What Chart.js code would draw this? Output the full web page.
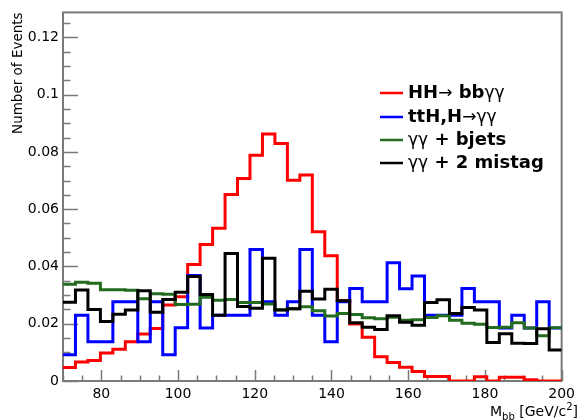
<!DOCTYPE html>
<html>
<head>
<title>Diphoton invariant mass</title>
<script src="https://cdn.jsdelivr.net/npm/chart.js"></script>
<style>
    body {
        margin: 0;
        background: #fff;
    }
</style>
</head>
<body>
<canvas id="myChart" width="580" height="420"></canvas>

<script>
// binning of the mass histograms
var binLow = 70;
var binHigh = 200;
var nBins = 40;

var xTickValues = [80, 100, 120, 140, 160, 180, 200];
var yTickValues = [0, 0.02, 0.04, 0.06, 0.08, 0.1, 0.12];

// normalised bin contents, one entry per bin
var hhSignal = [0.0047, 0.0066, 0.0072, 0.0098, 0.0111, 0.0137, 0.0164, 0.0183, 0.0265, 0.0294,
                0.0407, 0.0477, 0.0533, 0.0651, 0.0707, 0.0788, 0.0862, 0.0829, 0.0701, 0.0719,
                0.0521, 0.0437, 0.0281, 0.0199, 0.0153, 0.0085, 0.0065, 0.0048, 0.0033, 0.0016,
                0.0016, 0, 0, 0.0015, 0, 0.0013, 0.0013, 0.0004, 0, 0];
var ttH = [0.0092, 0.0230, 0.0137, 0.0137, 0.0277, 0.0277, 0.0137, 0.0277, 0.0092, 0.0186,
           0.0368, 0.0185, 0.0230, 0.0230, 0.0230, 0.0459, 0.0277, 0.0230, 0.0277, 0.0459,
           0.0230, 0.0137, 0.0277, 0.0323, 0.0277, 0.0277, 0.0413, 0.0322, 0.0367, 0.0230,
           0.0230, 0.0230, 0.0323, 0.0277, 0.0277, 0.0185, 0.0230, 0.0185, 0.0277, 0.0185];
var bjets = [0.0338, 0.0345, 0.0341, 0.0319, 0.0319, 0.0317, 0.0287, 0.0305, 0.0303, 0.0267,
             0.0268, 0.0292, 0.0282, 0.0285, 0.0274, 0.0274, 0.0269, 0.0249, 0.0252, 0.0259,
             0.0245, 0.0227, 0.0236, 0.0232, 0.0221, 0.0217, 0.0223, 0.0212, 0.0214, 0.0222,
             0.0228, 0.0212, 0.0202, 0.0198, 0.0187, 0.0188, 0.0203, 0.0185, 0.0158, 0.0186];
var mistag = [0.0275, 0.0318, 0.0250, 0.0208, 0.0233, 0.0248, 0.0315, 0.0240, 0.0285, 0.0310,
              0.0365, 0.0302, 0.0230, 0.0445, 0.0260, 0.0254, 0.0429, 0.0248, 0.0252, 0.0313,
              0.0286, 0.0320, 0.0280, 0.0203, 0.0188, 0.0180, 0.0228, 0.0205, 0.0195, 0.0274,
              0.0284, 0.0236, 0.0257, 0.0248, 0.0134, 0.0165, 0.0132, 0.0131, 0.0182, 0.0108];

var FONT = "'DejaVu Sans', sans-serif";
var FRAME = '#7a7a7a';

// turn bin contents into step points: left edge of every bin, plus the upper edge
function histPoints(values) {
    var width = (binHigh - binLow) / nBins;
    var pts = values.map(function (v, i) {
        return { x: binLow + i * width, y: v };
    });
    pts.push({ x: binHigh, y: values[values.length - 1] });
    return pts;
}

function hist(label, values, color, order) {
    return {
        label: label,
        data: histPoints(values),
        borderColor: color,
        borderWidth: 3,
        stepped: 'before',
        pointRadius: 0,
        fill: false,
        order: order
    };
}

// frame box with inward ticks, like a ROOT pad
var framePlugin = {
    id: 'frame',
    beforeDatasetsDraw: function (chart) {
        var ctx = chart.ctx;
        var a = chart.chartArea;
        var xs = chart.scales.x;
        var ys = chart.scales.y;
        ctx.save();
        ctx.strokeStyle = FRAME;
        ctx.lineWidth = 1.5;
        ctx.beginPath();
        for (var v = 70; v <= 200; v += 5) {
            var px = Math.round(xs.getPixelForValue(v)) + 0.5;
            var len = (v % 20 === 0) ? 11 : 5.5;
            ctx.moveTo(px, a.bottom);
            ctx.lineTo(px, a.bottom - len);
        }
        for (var i = 0; i * 0.005 <= ys.max; i++) {
            var py = Math.round(ys.getPixelForValue(i * 0.005)) + 0.5;
            var ylen = (i % 4 === 0) ? 15 : 7.5;
            ctx.moveTo(a.left, py);
            ctx.lineTo(a.left + ylen, py);
        }
        ctx.stroke();
        ctx.lineWidth = 2;
        ctx.strokeRect(a.left, a.top, a.right - a.left, a.bottom - a.top);
        ctx.restore();
    },
    afterDraw: function (chart) {
        var ctx = chart.ctx;
        ctx.save();
        // x axis title with sub- and superscript
        ctx.fillStyle = '#000';
        ctx.textBaseline = 'alphabetic';
        var parts = [
            { t: 'M', size: 14, dy: 0 },
            { t: 'bb', size: 10, dy: 4 },
            { t: ' [GeV/c', size: 14, dy: 0 },
            { t: '2', size: 10, dy: -6 },
            { t: ']', size: 14, dy: 0 }
        ];
        var total = 0;
        parts.forEach(function (p) {
            ctx.font = p.size + 'px ' + FONT;
            p.w = ctx.measureText(p.t).width;
            total += p.w;
        });
        var x = 578 - total;
        parts.forEach(function (p) {
            ctx.font = p.size + 'px ' + FONT;
            ctx.fillText(p.t, x, 416 + p.dy);
            x += p.w;
        });

        // legend: coloured line and label, greek letters and arrows in plain weight
        var rows = [93, 117, 140, 163];
        chart.data.datasets.forEach(function (ds, k) {
            var y = rows[k];
            ctx.strokeStyle = ds.borderColor;
            ctx.lineWidth = 2.5;
            ctx.beginPath();
            ctx.moveTo(380, y);
            ctx.lineTo(403, y);
            ctx.stroke();
            var lx = 408;
            ctx.textBaseline = 'middle';
            ctx.fillStyle = '#000';
            Array.from(ds.label).forEach(function (ch) {
                var plain = (ch === 'γ' || ch === '→');
                ctx.font = plain ? '17px ' + FONT : 'bold 18px ' + FONT;
                ctx.fillText(ch, lx, y + (plain ? 1 : 0));
                lx += ctx.measureText(ch).width;
            });
        });
        ctx.restore();
    }
};

var ctx = document.getElementById('myChart').getContext('2d');

var chart = new Chart(ctx, {
    type: 'line',
    data: {
        datasets: [
            hist('HH→ bbγγ', hhSignal, '#ff0000', 4),
            hist('ttH,H→γγ', ttH, '#0000ff', 3),
            hist('γγ + bjets', bjets, '#236b1e', 2),
            hist('γγ + 2 mistag', mistag, '#000000', 1)
        ]
    },
    options: {
        responsive: false,
        animation: false,
        layout: {
            padding: { left: 0, right: 9, top: 12, bottom: 0 }
        },
        plugins: {
            legend: { display: false },
            tooltip: { enabled: false }
        },
        scales: {
            x: {
                type: 'linear',
                min: binLow,
                max: binHigh,
                grid: { display: false, drawTicks: false },
                border: { display: false },
                afterBuildTicks: function (scale) {
                    scale.ticks = xTickValues.map(function (v) { return { value: v }; });
                },
                afterFit: function (scale) {
                    scale.height = 39;
                },
                ticks: {
                    color: '#000',
                    padding: 5,
                    maxRotation: 0,
                    font: { family: FONT, size: 14 }
                }
            },
            y: {
                type: 'linear',
                min: 0,
                max: 0.1287,
                grid: { display: false, drawTicks: false },
                border: { display: false },
                afterBuildTicks: function (scale) {
                    scale.ticks = yTickValues.map(function (v) { return { value: v }; });
                },
                afterFit: function (scale) {
                    scale.width = 63;
                },
                ticks: {
                    color: '#000',
                    padding: 4,
                    font: { family: FONT, size: 14 },
                    callback: function (v) { return String(+v.toFixed(2)); }
                },
                title: {
                    display: true,
                    text: 'Number of Events',
                    align: 'end',
                    color: '#000',
                    padding: { top: 10, bottom: 0 },
                    font: { family: FONT, size: 13.5 }
                }
            }
        }
    },
    plugins: [framePlugin]
});
</script>
</body>
</html>
